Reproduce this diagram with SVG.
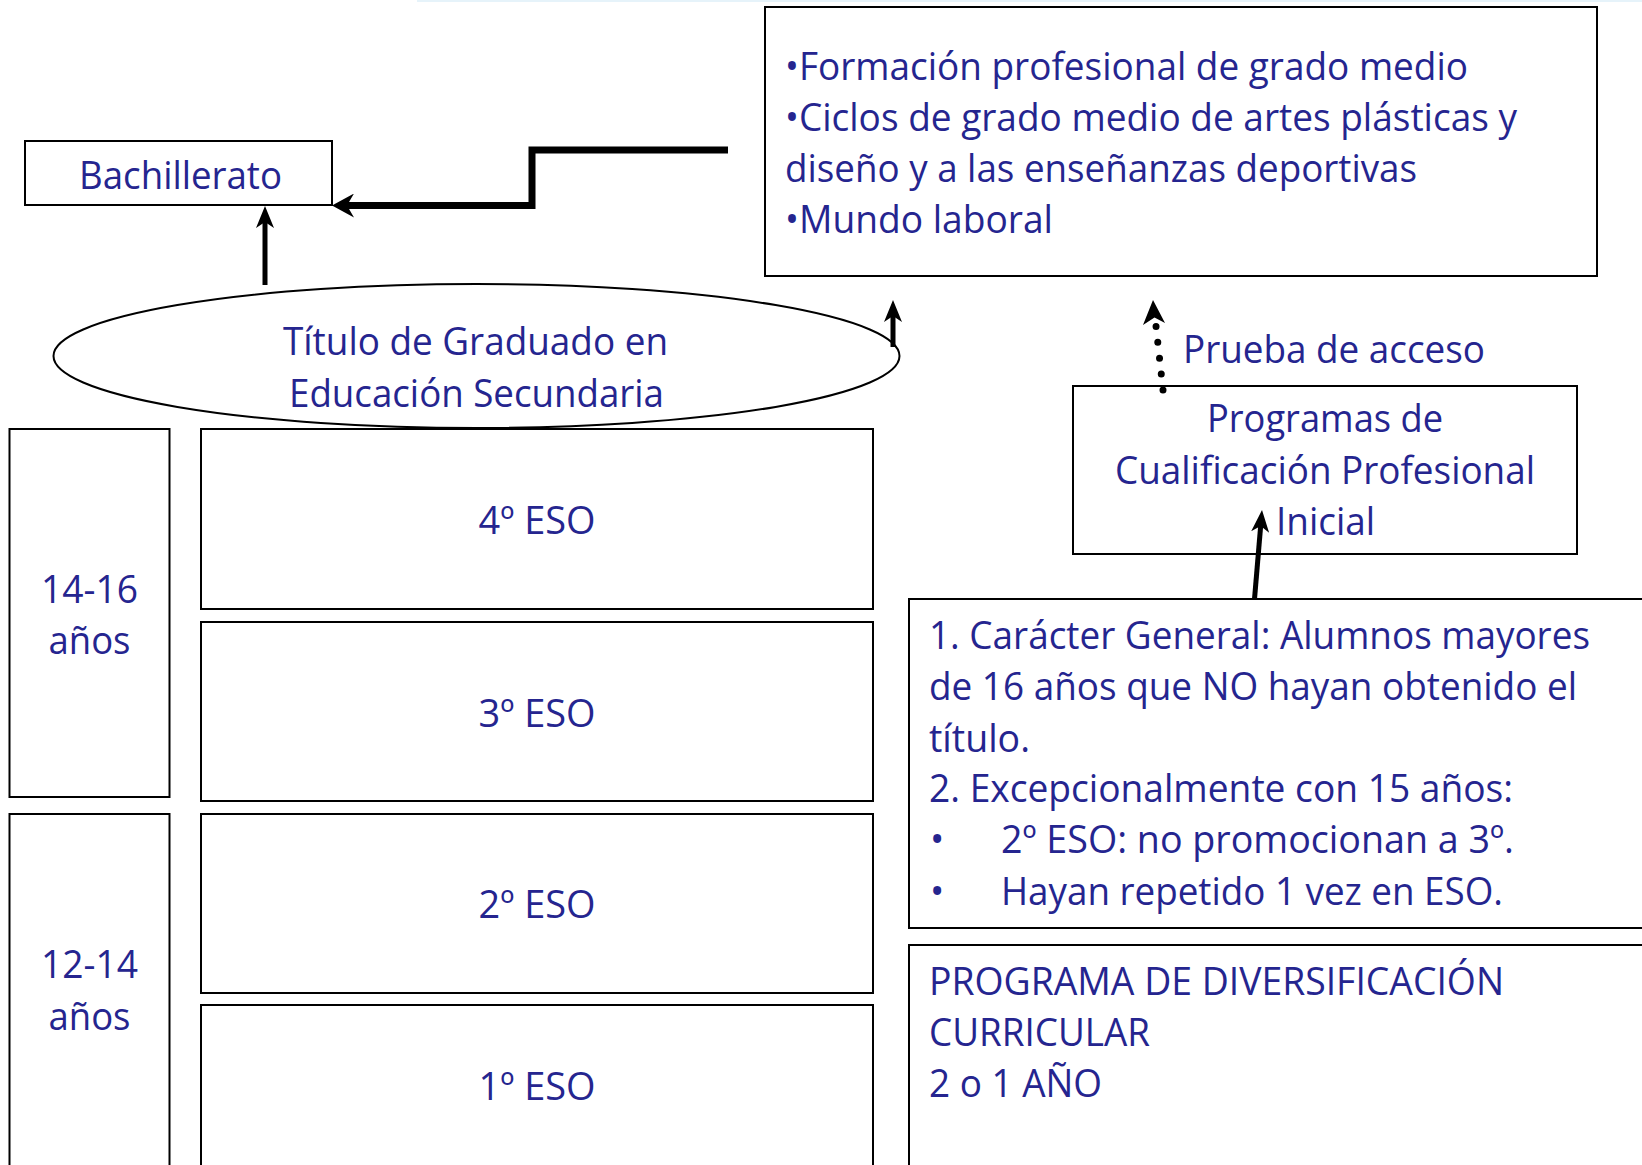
<svg xmlns="http://www.w3.org/2000/svg" width="1642" height="1165" viewBox="0 0 1642 1165">
<style>
.box{fill:#fff;stroke:#000;stroke-width:2}
.t{font-family:"Open Sans","Noto Sans","Liberation Sans",sans-serif;font-size:38px;fill:#25258f}
.c{text-anchor:middle}
.conn{fill:none;stroke:#000}
</style>
<defs>
<marker id="headL" viewBox="0 0 22 24" refX="10" refY="12" markerWidth="22" markerHeight="24" markerUnits="userSpaceOnUse" orient="auto"><path d="M0,0 L22,12 L0,24 L7,12 z" fill="#000"/></marker>
<marker id="headS" viewBox="0 0 22 18" refX="10" refY="9" markerWidth="22" markerHeight="18" markerUnits="userSpaceOnUse" orient="auto"><path d="M0,0 L22,9 L0,18 L6,9 z" fill="#000"/></marker>
</defs>
<rect x="0" y="0" width="1642" height="1165" fill="#fff"/>
<rect x="417" y="0" width="1225" height="2" fill="#e6f3fa"/>

<g id="salidas">
<rect class="box" x="765" y="7" width="832" height="269"/>
<text class="t" x="785" y="80" textLength="683" lengthAdjust="spacingAndGlyphs">•Formación profesional de grado medio</text>
<text class="t" x="785" y="131" textLength="732" lengthAdjust="spacingAndGlyphs">•Ciclos de grado medio de artes plásticas y</text>
<text class="t" x="785" y="182" textLength="632" lengthAdjust="spacingAndGlyphs">diseño y a las enseñanzas deportivas</text>
<text class="t" x="785" y="233" textLength="268" lengthAdjust="spacingAndGlyphs">•Mundo laboral</text>
</g>

<g id="bachillerato">
<rect class="box" x="25" y="141" width="307" height="64"/>
<text class="t" x="79" y="189" textLength="203" lengthAdjust="spacingAndGlyphs">Bachillerato</text>
</g>

<g id="titulo">
<ellipse cx="476.5" cy="356" rx="423" ry="72" fill="#fff" stroke="#000" stroke-width="2"/>
<text class="t" x="283" y="355" textLength="385" lengthAdjust="spacingAndGlyphs">Título de Graduado en</text>
<text class="t" x="289" y="407" textLength="375" lengthAdjust="spacingAndGlyphs">Educación Secundaria</text>
</g>

<g id="pcpi">
<rect class="box" x="1073" y="386" width="504" height="168"/>
<text class="t" x="1207" y="432" textLength="236" lengthAdjust="spacingAndGlyphs">Programas de</text>
<text class="t" x="1115" y="484" textLength="420" lengthAdjust="spacingAndGlyphs">Cualificación Profesional</text>
<text class="t" x="1276" y="535" textLength="99" lengthAdjust="spacingAndGlyphs">Inicial</text>
</g>

<g id="prueba">
<text class="t" x="1183" y="363" textLength="302" lengthAdjust="spacingAndGlyphs">Prueba de acceso</text>
</g>

<g id="condiciones">
<rect class="box" x="909" y="599" width="760" height="329"/>
<text class="t" x="929" y="649" textLength="661" lengthAdjust="spacingAndGlyphs">1. Carácter General: Alumnos mayores</text>
<text class="t" x="929" y="700" textLength="648" lengthAdjust="spacingAndGlyphs">de 16 años que NO hayan obtenido el</text>
<text class="t" x="929" y="752" textLength="101" lengthAdjust="spacingAndGlyphs">título.</text>
<text class="t" x="929" y="802" textLength="584" lengthAdjust="spacingAndGlyphs">2. Excepcionalmente con 15 años:</text>
<text class="t" x="930" y="853">•</text>
<text class="t" x="1001" y="853" textLength="513" lengthAdjust="spacingAndGlyphs">2º ESO: no promocionan a 3º.</text>
<text class="t" x="930" y="905">•</text>
<text class="t" x="1001" y="905" textLength="502" lengthAdjust="spacingAndGlyphs">Hayan repetido 1 vez en ESO.</text>
</g>

<g id="diversificacion">
<rect class="box" x="909" y="945" width="760" height="240"/>
<text class="t" x="929" y="995" textLength="575" lengthAdjust="spacingAndGlyphs">PROGRAMA DE DIVERSIFICACIÓN</text>
<text class="t" x="929" y="1046" textLength="221" lengthAdjust="spacingAndGlyphs">CURRICULAR</text>
<text class="t" x="929" y="1097" textLength="173" lengthAdjust="spacingAndGlyphs">2 o 1 AÑO</text>
</g>

<g id="edad1416">
<rect class="box" x="9.5" y="429" width="160" height="368"/>
<text class="t c" x="89.5" y="603" textLength="97" lengthAdjust="spacingAndGlyphs">14-16</text>
<text class="t c" x="89.5" y="654" textLength="82" lengthAdjust="spacingAndGlyphs">años</text>
</g>

<g id="edad1214">
<rect class="box" x="9.5" y="814" width="160" height="370"/>
<text class="t c" x="89.5" y="978" textLength="97" lengthAdjust="spacingAndGlyphs">12-14</text>
<text class="t c" x="89.5" y="1030" textLength="82" lengthAdjust="spacingAndGlyphs">años</text>
</g>

<g id="eso4">
<rect class="box" x="201" y="429" width="672" height="180"/>
<text class="t c" x="537" y="534" textLength="117" lengthAdjust="spacingAndGlyphs">4º ESO</text>
</g>
<g id="eso3">
<rect class="box" x="201" y="622" width="672" height="179"/>
<text class="t c" x="537" y="727" textLength="117" lengthAdjust="spacingAndGlyphs">3º ESO</text>
</g>
<g id="eso2">
<rect class="box" x="201" y="814" width="672" height="179"/>
<text class="t c" x="537" y="918" textLength="117" lengthAdjust="spacingAndGlyphs">2º ESO</text>
</g>
<g id="eso1">
<rect class="box" x="201" y="1005" width="672" height="180"/>
<text class="t c" x="537" y="1100" textLength="117" lengthAdjust="spacingAndGlyphs">1º ESO</text>
</g>

<g id="connectors">
<path class="conn" d="M728,150 H532 V205.5 H344" stroke-width="7" marker-end="url(#headL)"/>
<path class="conn" d="M265,285 V218" stroke-width="5" marker-end="url(#headS)"/>
<path class="conn" d="M893,347 V312" stroke-width="5" marker-end="url(#headS)"/>
<path class="conn" d="M1254.5,599 L1261,522" stroke-width="5" marker-end="url(#headS)"/>
<path class="conn" d="M1163,390 L1156,326" stroke-width="7" stroke-linecap="round" stroke-dasharray="0 16"/>
<path d="M1153,300 L1165,323 L1154.5,317.5 L1143,325 z" fill="#000"/>
</g>
</svg>
